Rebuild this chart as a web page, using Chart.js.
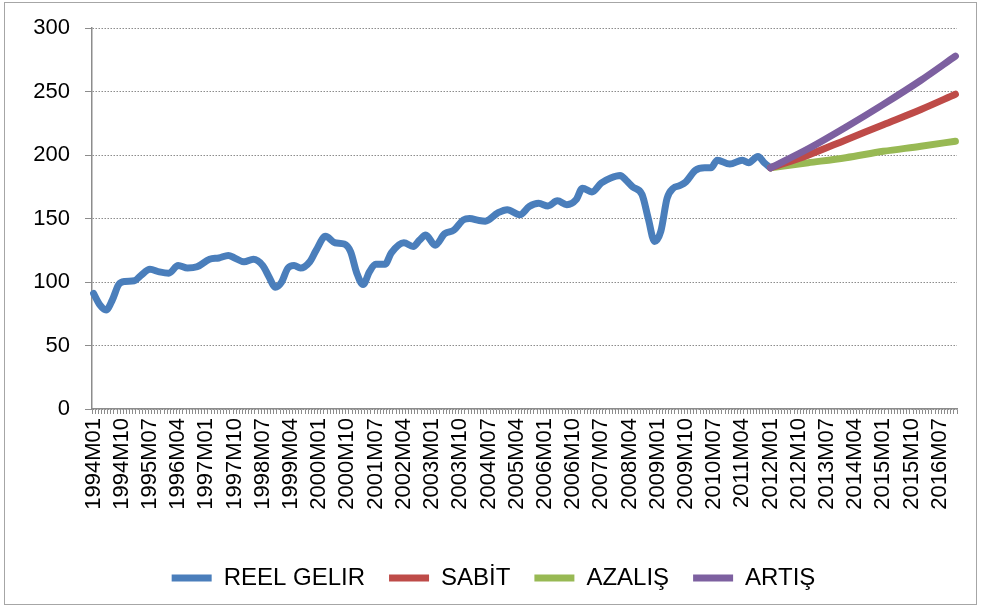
<!DOCTYPE html>
<html>
<head>
<meta charset="utf-8">
<script src="https://cdn.jsdelivr.net/npm/chart.js@4.4.1/dist/chart.umd.min.js"></script>
<style>
  html, body { margin: 0; padding: 0; background: #fff; }
  #wrap { position: relative; width: 981px; height: 608px; }
</style>
</head>
<body>
<div id="wrap"><canvas id="chart" width="981" height="608"></canvas></div>
<script>
// monthly categories 1994M01 .. 2016M12
var startYear = 1994, endYear = 2016;
var months = [];
for (var y = startYear; y <= endYear; y++) {
    for (var m = 1; m <= 12; m++) {
        months.push(y + 'M' + (m < 10 ? '0' + m : m));
    }
}

// REEL GELIR
var reelDates = ['1994M01','1994M03','1994M05','1994M07','1994M09','1994M11','1995M02','1995M04','1995M07','1995M10',
    '1996M01','1996M04','1996M07','1996M10','1997M02','1997M05','1997M08','1997M10','1998M01','1998M04',
    '1998M07','1998M09','1998M11','1999M01','1999M03','1999M05','1999M07','1999M10','1999M12','2000M03',
    '2000M06','2000M09','2000M11','2001M01','2001M03','2001M05','2001M07','2001M10','2001M12','2002M04',
    '2002M07','2002M09','2002M11','2003M02','2003M05','2003M08','2003M11','2004M01','2004M04','2004M06',
    '2004M10','2005M01','2005M05','2005M08','2005M11','2006M02','2006M05','2006M08','2006M11','2007M01',
    '2007M04','2007M07','2007M10','2008M01','2008M03','2008M05','2008M08','2008M10','2008M12','2009M02',
    '2009M04','2009M06','2009M08','2009M10','2010M01','2010M04','2010M06','2010M08','2010M12','2011M04',
    '2011M06','2011M09','2011M11','2012M01'];
var reelValues = [91, 82, 78, 86, 98, 100.5, 101, 105, 110, 108,
    107, 113, 111, 112, 118, 119, 121, 119, 116, 118,
    113, 104, 96, 100, 111, 113, 111, 116, 125, 136,
    131, 130, 124, 107, 98, 108, 114, 114, 123, 131,
    128, 133, 137, 129, 138, 141, 149, 150, 148.5, 148,
    154.5, 157, 153, 159.5, 162, 160, 164, 161, 165, 174,
    171, 178, 182, 184, 180, 175, 169, 150, 132, 140,
    166, 174, 176, 179, 188, 190, 190, 196, 193, 196,
    194, 199, 194, 190];

// scenarios
var forecastDates = ['2012M01','2013M01','2014M01','2015M01','2016M01','2016M12'];
var sabitValues  = [190, 200, 212, 224, 236, 248];
var azalisValues = [190, 194, 198, 203, 207, 211];
var artisValues  = [190, 205, 222, 240, 259, 278];

var yTicks = [0, 50, 100, 150, 200, 250, 300];

function place(dates, values) {
    var arr = months.map(function () { return null; });
    for (var i = 0; i < dates.length; i++) {
        arr[months.indexOf(dates[i])] = values[i];
    }
    return arr;
}

var FONT = '"Liberation Sans", Arial, Helvetica, sans-serif';

var frame = {
    id: 'frame',
    beforeDraw: function (chart) {
        var ctx = chart.ctx;
        ctx.save();
        ctx.fillStyle = '#fff';
        ctx.fillRect(0, 0, chart.width, chart.height);
        ctx.strokeStyle = '#a6a6a6';
        ctx.lineWidth = 1;
        ctx.strokeRect(4.5, 2.5, 972, 602);
        ctx.restore();
    }
};

function series(label, data, color, order) {
    return {
        label: label,
        data: data,
        borderColor: color,
        backgroundColor: color,
        borderWidth: 7,
        pointRadius: 0,
        spanGaps: true,
        cubicInterpolationMode: 'monotone',
        borderCapStyle: 'round',
        borderJoinStyle: 'round',
        order: order
    };
}

new Chart(document.getElementById('chart'), {
    type: 'line',
    data: {
        labels: months,
        datasets: [
            series('REEL GELIR', place(reelDates, reelValues), '#4a7ebb', 4),
            series('SABİT', place(forecastDates, sabitValues), '#be4b48', 2),
            series('AZALIŞ', place(forecastDates, azalisValues), '#98b954', 3),
            series('ARTIŞ', place(forecastDates, artisValues), '#7d60a0', 1)
        ]
    },
    options: {
        responsive: false,
        animation: false,
        layout: { padding: { left: 30, right: 24, top: 28, bottom: 8 } },
        plugins: {
            legend: {
                position: 'bottom',
                labels: {
                    font: { family: FONT, size: 24 },
                    color: '#000',
                    usePointStyle: true,
                    pointStyle: 'line',
                    pointStyleWidth: 40,
                    padding: 24,
                    sort: function (a, b) { return a.datasetIndex - b.datasetIndex; }
                }
            },
            tooltip: { enabled: false }
        },
        scales: {
            x: {
                offset: true,
                grid: {
                    offset: true,
                    drawOnChartArea: false,
                    drawTicks: true,
                    tickLength: 5,
                    tickColor: '#8c8c8c',
                    tickWidth: 1
                },
                border: { color: '#8c8c8c', width: 1.5 },
                ticks: {
                    autoSkip: false,
                    maxRotation: 90,
                    minRotation: 90,
                    padding: 4,
                    color: '#000',
                    font: { family: FONT, size: 22 },
                    callback: function (v, i) { return i % 9 === 0 ? months[i] : ''; }
                },
                afterFit: function (scale) {
                    scale.height = 133;
                    scale.paddingLeft = 0;
                    scale.paddingRight = 0;
                }
            },
            y: {
                min: 0,
                max: 300,
                afterBuildTicks: function (scale) {
                    scale.ticks = yTicks.map(function (v) { return { value: v }; });
                },
                grid: {
                    color: '#8c8c8c',
                    lineWidth: 1,
                    drawTicks: true,
                    tickLength: 7,
                    tickColor: '#8c8c8c',
                    tickBorderDash: []
                },
                border: { color: '#8c8c8c', width: 1.5, dash: [1.5, 1.5] },
                ticks: {
                    padding: 15,
                    color: '#000',
                    font: { family: FONT, size: 22 }
                },
                afterFit: function (scale) { scale.width = 62; }
            }
        }
    },
    plugins: [frame]
});
</script>
</body>
</html>
